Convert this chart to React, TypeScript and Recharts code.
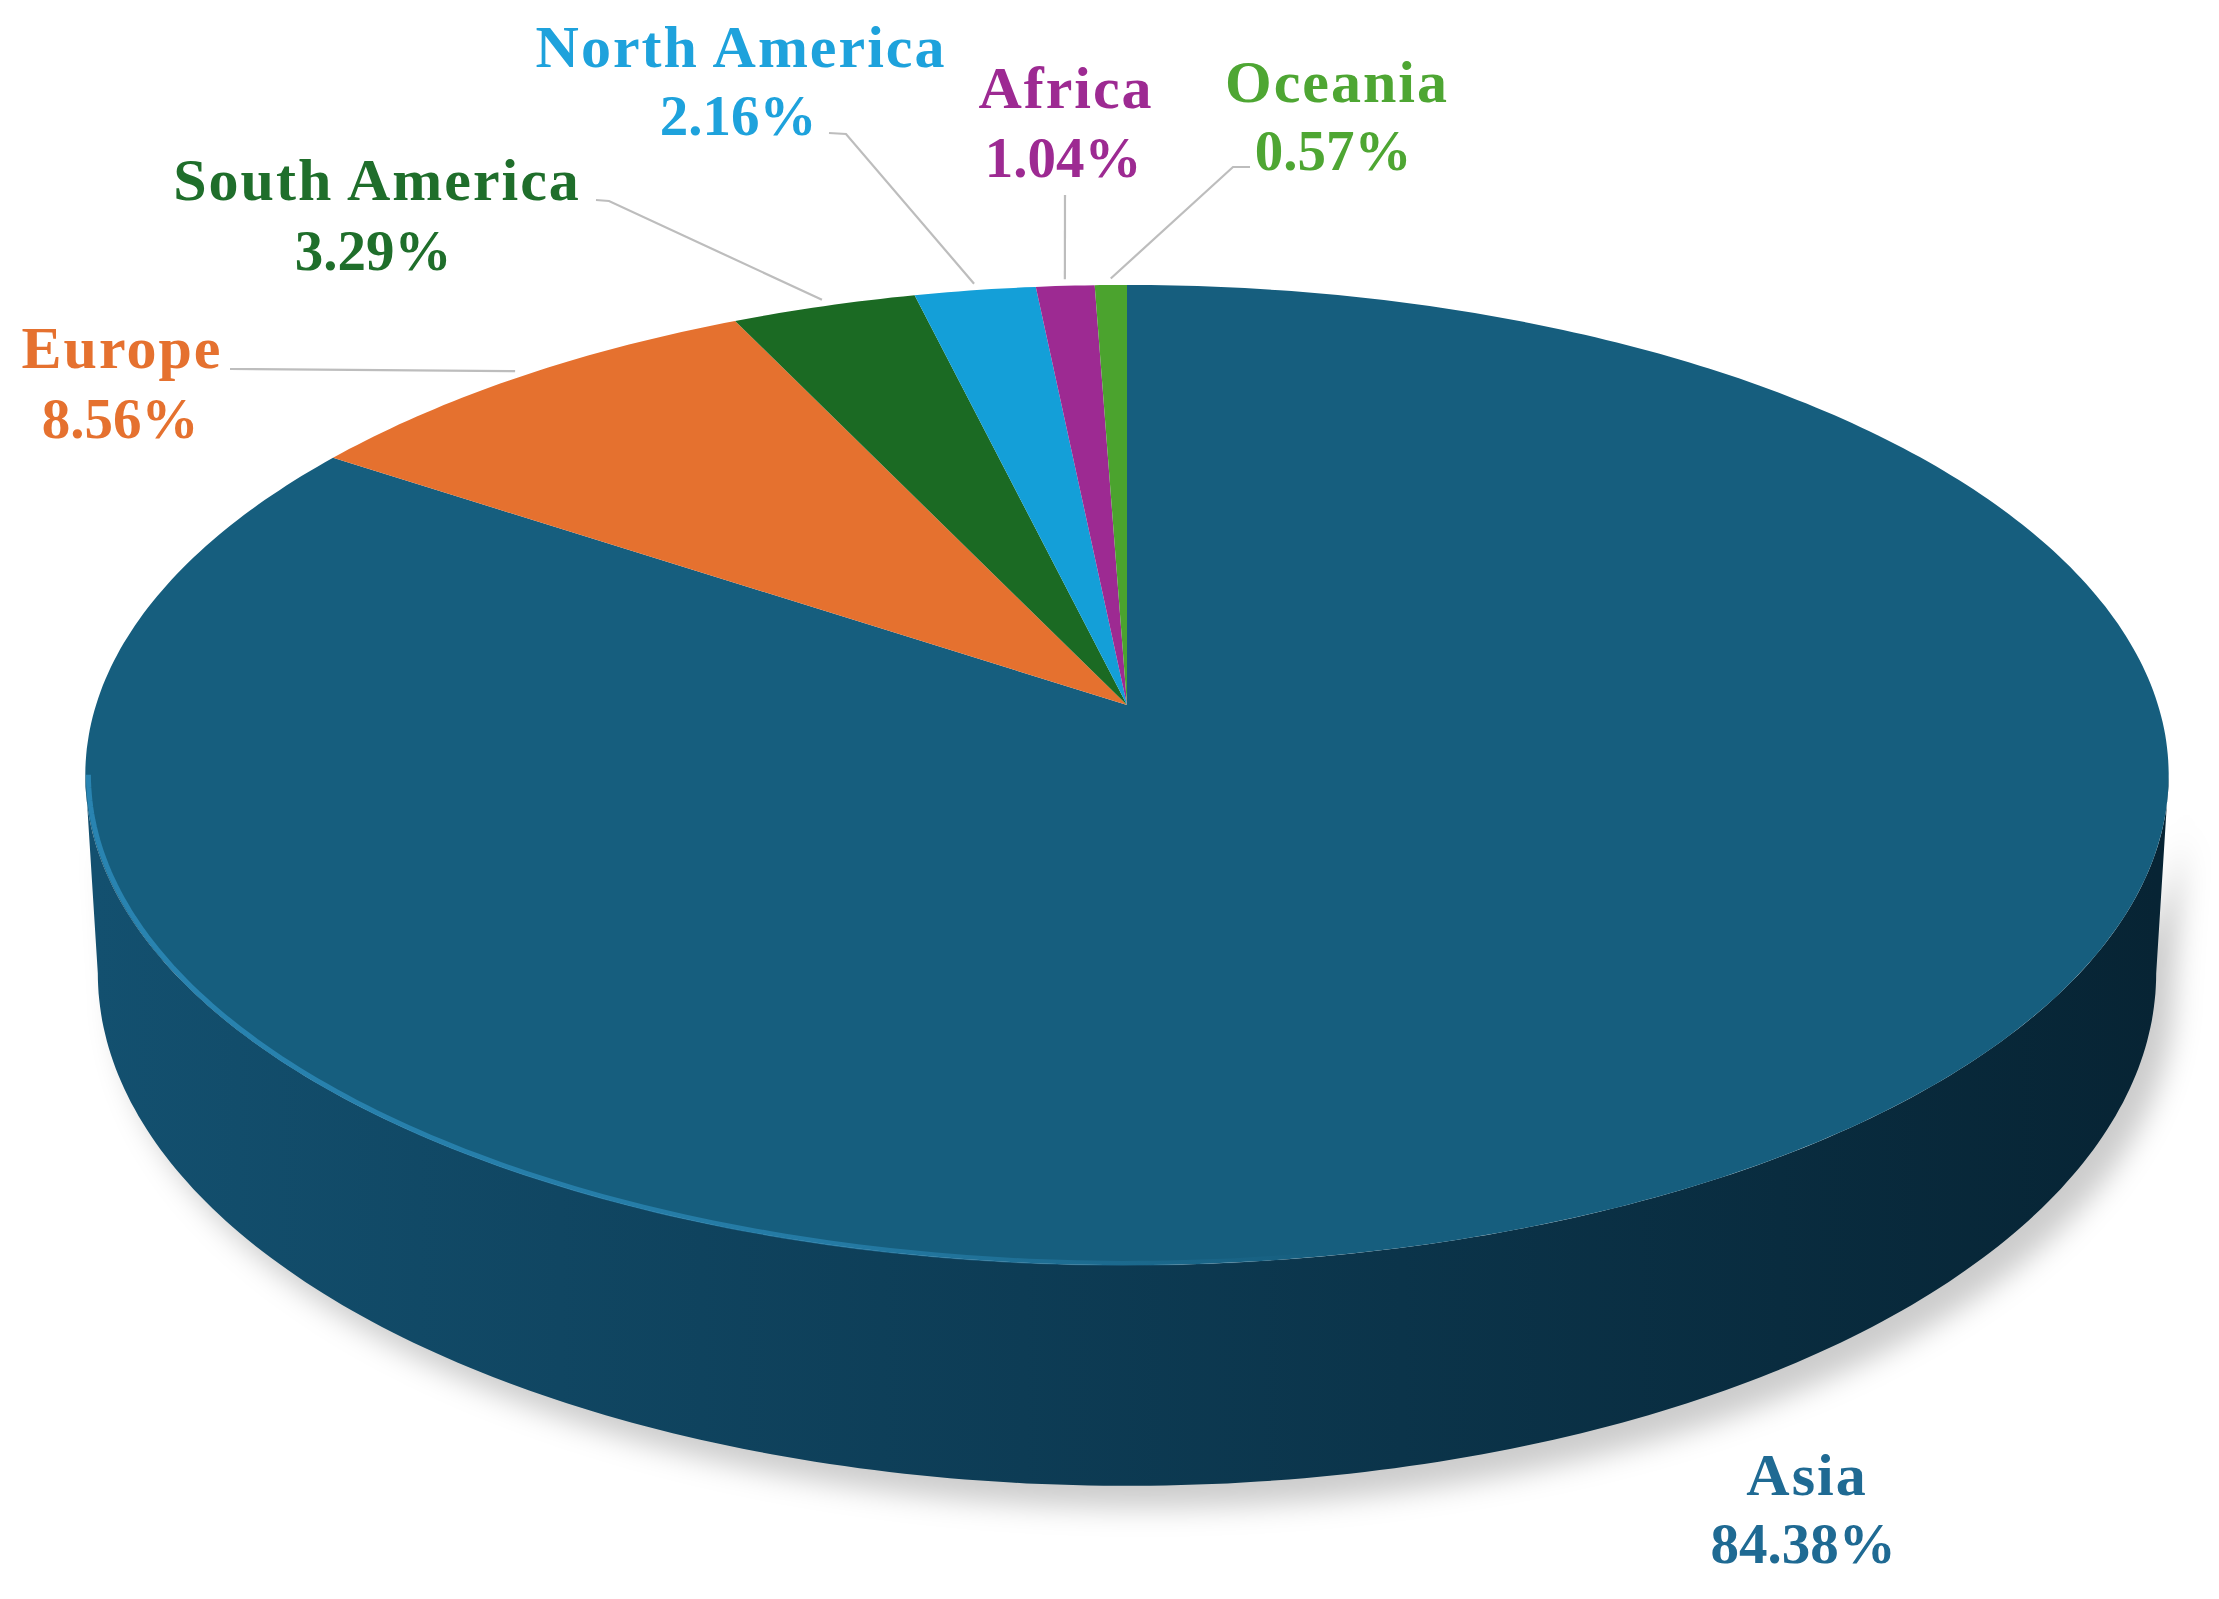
import React from 'react';
import { PieChart, Pie, Cell } from 'recharts';

// ---- data ----
const regions = ['Asia', 'Europe', 'South America', 'North America', 'Africa', 'Oceania'];
const shares = [84.38, 8.56, 3.29, 2.16, 1.04, 0.57];
const sliceColors = ['#165e7e', '#e5712f', '#1b6a23', '#149fd8', '#9d2a92', '#4ba32e'];
const labelColors = ['#1f6a93', '#e5712f', '#1f6e2b', '#1ea2dc', '#9d2a92', '#4ea633'];

// ---- layout (label placement, not data) ----
type Lay = { nx: number; ny: number; vx: number; vy: number; line: number[][] };
const LABEL_LAYOUT: Lay[] = [
  { nx: 1807, ny: 1495, vx: 1803, vy: 1563, line: [] },
  { nx: 122, ny: 368, vx: 120, vy: 438, line: [[230, 369]] },
  { nx: 377, ny: 200, vx: 373, vy: 270, line: [[596, 200], [609, 201]] },
  { nx: 741, ny: 67, vx: 738, vy: 135, line: [[829, 133], [846, 134]] },
  { nx: 1066, ny: 108, vx: 1063, vy: 177, line: [[1065, 195]] },
  { nx: 1337, ny: 102, vx: 1333, vy: 170, line: [[1250, 167], [1233, 167]] },
];

const data = regions.map((name, i) => ({ name, value: shares[i] }));

// perspective tilt parameters
const TILT_C = -0.142857;
const RY_RATIO = 0.4656;
const DEPTH = 195;
const BOTTOM_SCALE = 0.988;
const FRONT_LO = -171.79;
const FRONT_HI = -8.21;

function project(cx: number, cy: number, r: number, angleDeg: number, drop = 0): [number, number] {
  const rad = (angleDeg * Math.PI) / 180;
  const u = Math.cos(rad);
  const v = -Math.sin(rad);
  const d = 1 + TILT_C * v;
  return [cx + (r * u) / d, cy + (r * RY_RATIO * v) / d + drop / d];
}

function arcPts(cx: number, cy: number, r: number, a1: number, a2: number, drop = 0) {
  const n = Math.max(6, Math.ceil(Math.abs(a2 - a1) / 0.75));
  const pts: [number, number][] = [];
  for (let i = 0; i <= n; i++) {
    pts.push(project(cx, cy, r, a1 + ((a2 - a1) * i) / n, drop));
  }
  return pts;
}

const toPath = (pts: [number, number][]) => pts.map((p, i) => `${i ? 'L' : 'M'}${p[0].toFixed(1)},${p[1].toFixed(1)}`).join(' ');

function Slice3D(props: any) {
  const { cx, cy, outerRadius: r, startAngle, endAngle, fill } = props;
  const lo = Math.min(startAngle, endAngle);
  const hi = Math.max(startAngle, endAngle);
  const rb = r * BOTTOM_SCALE;
  const walls: string[] = [];
  for (const k of [-360, 0, 360]) {
    const a = Math.max(lo, FRONT_LO + k);
    const b = Math.min(hi, FRONT_HI + k);
    if (b > a) {
      const top = arcPts(cx, cy, r, a, b);
      const bot = arcPts(cx, cy, rb, b, a, DEPTH);
      walls.push(toPath([...top, ...bot]) + ' Z');
    }
  }
  const topFace = toPath([[cx, cy], ...arcPts(cx, cy, r, startAngle, endAngle)]) + ' Z';
  const hasWall = walls.length > 0;
  let shadow = '';
  let highlight = '';
  if (hasWall) {
    shadow = toPath([...arcPts(cx, cy, rb, FRONT_LO, FRONT_HI, DEPTH), ...arcPts(cx, cy, r, FRONT_HI, FRONT_LO, 0)]) + ' Z';
    highlight = toPath(arcPts(cx, cy, r * 0.997, FRONT_LO, -70));
  }
  return (
    <g>
      {hasWall && (
        <defs>
          <linearGradient id="wallGrad" gradientUnits="userSpaceOnUse" x1={cx - r} y1={0} x2={cx + r} y2={0}>
            <stop offset="0" stopColor="#13506f" />
            <stop offset="0.45" stopColor="#0d3c55" />
            <stop offset="1" stopColor="#072434" />
          </linearGradient>
          <linearGradient id="hiGrad" gradientUnits="userSpaceOnUse" x1={cx - r} y1={0} x2={cx + 200} y2={0}>
            <stop offset="0" stopColor="#2a86b4" stopOpacity="0.95" />
            <stop offset="0.6" stopColor="#2a86b4" stopOpacity="0.7" />
            <stop offset="1" stopColor="#2a86b4" stopOpacity="0" />
          </linearGradient>
          <filter id="softShadow" x="-10%" y="-20%" width="120%" height="150%">
            <feGaussianBlur stdDeviation="14" />
          </filter>
        </defs>
      )}
      {hasWall && (
        <path d={shadow} fill="#000" fillOpacity={0.2} transform="translate(18,22)" filter="url(#softShadow)" />
      )}
      {walls.map((w, i) => (
        <path key={i} d={w} fill="url(#wallGrad)" stroke="none" />
      ))}
      <path d={topFace} fill={fill} stroke="none" />
      {hasWall && <path d={highlight} fill="none" stroke="url(#hiGrad)" strokeWidth={5} />}
    </g>
  );
}

const NAME_STYLE = { fontFamily: '"Liberation Serif", serif', fontWeight: 700, fontSize: 60, letterSpacing: 2 };
const VALUE_STYLE = { fontFamily: '"Liberation Serif", serif', fontWeight: 700, fontSize: 57 };

function renderLabel(props: any) {
  const { cx, cy, midAngle, outerRadius, index } = props;
  const lay = LABEL_LAYOUT[index];
  const color = labelColors[index];
  const [ex, ey] = project(cx, cy, outerRadius * 1.006, midAngle);
  const pts: [number, number][] = [...(lay.line as [number, number][])];
  const showLine = pts.length > 0;
  if (showLine) pts.push([ex, ey - 4]);
  return (
    <g key={`lbl-${index}`}>
      {showLine && (
        <polyline points={pts.map((p) => p.join(',')).join(' ')} fill="none" stroke="#bdbdbd" strokeWidth={2.2} />
      )}
      <text x={lay.nx} y={lay.ny} textAnchor="middle" fill={color} style={NAME_STYLE}>
        {regions[index]}
      </text>
      <text x={lay.vx} y={lay.vy} textAnchor="middle" fill={color} style={VALUE_STYLE}>
        {`${shares[index].toFixed(2)}%`}
      </text>
    </g>
  );
}

export default function App() {
  return (
    <div style={{ position: 'absolute', left: 0, top: 0, width: 2219, height: 1599, background: '#fff' }}>
      <PieChart width={2219} height={1599} margin={{ top: 0, right: 0, bottom: 0, left: 0 }}>
        <Pie
          data={data}
          dataKey="value"
          nameKey="name"
          cx={1127}
          cy={705}
          outerRadius={1031}
          startAngle={90}
          endAngle={-270}
          stroke="none"
          isAnimationActive={false}
          label={renderLabel}
          labelLine={false}
          shape={Slice3D}
          inactiveShape={Slice3D}
          activeShape={Slice3D}
        >
          {data.map((d, i) => (
            <Cell key={d.name} fill={sliceColors[i]} />
          ))}
        </Pie>
      </PieChart>
    </div>
  );
}
